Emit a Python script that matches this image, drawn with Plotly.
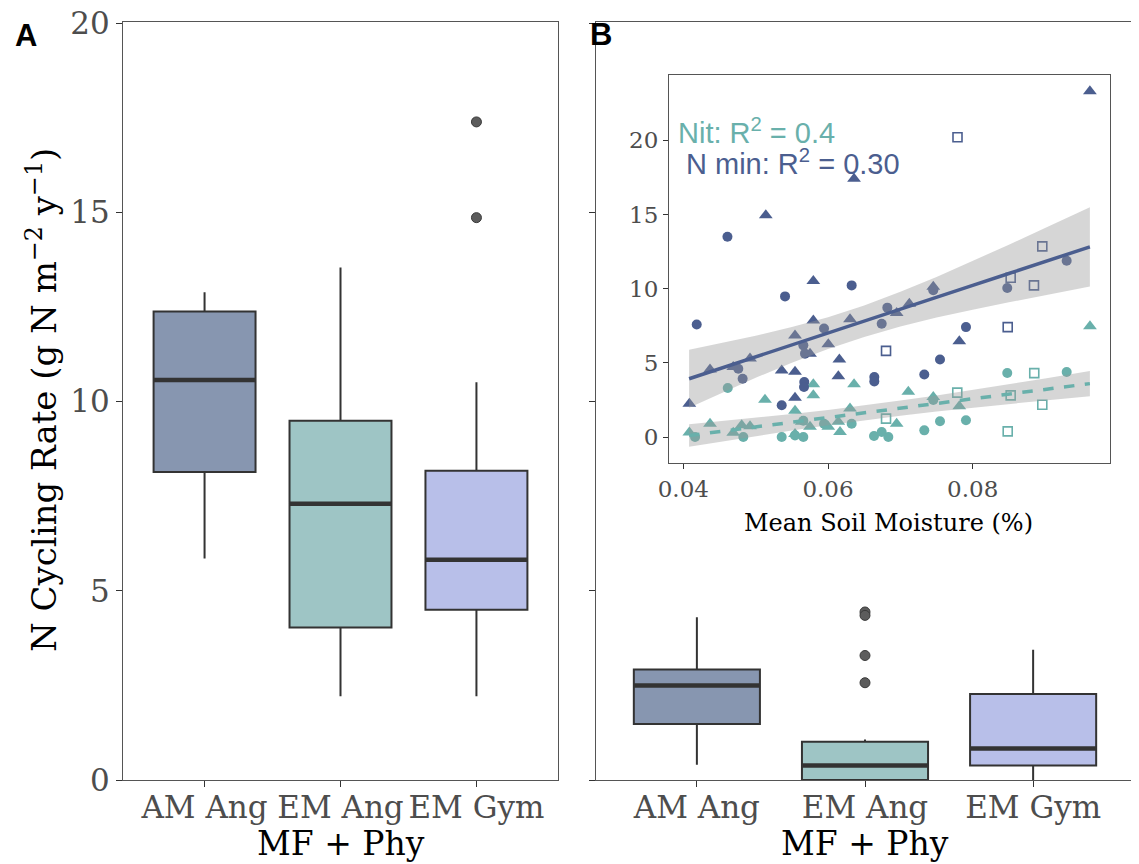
import plotly.graph_objects as go

# the page body has an 8 px margin, so the figure is drawn 8 px smaller and offsets are compensated
OFF = 8
W, H = 1139 - OFF, 864 - OFF

# ---------------- data ----------------
categories = ["AM Ang", "EM Ang", "EM Gym"]
box_fill = ["#8796b0", "#9ec5c5", "#b8bfe9"]

# Panel A (box statistics)
a_q1 = [8.14, 4.03, 4.50]
a_median = [10.57, 7.30, 5.82]
a_q3 = [12.38, 9.49, 8.17]
a_lower = [5.85, 2.21, 2.21]
a_upper = [12.89, 13.54, 10.51]
a_out_cat = ["EM Gym", "EM Gym"]
a_out_val = [17.39, 14.86]

# Panel B (box statistics)
b_q1 = [1.48, 0.00, 0.38]
b_median = [2.50, 0.38, 0.83]
b_q3 = [2.92, 1.01, 2.27]
b_lower = [0.40, 0.00, 0.00]
b_upper = [4.30, 1.07, 3.44]
b_out_cat = ["EM Ang", "EM Ang", "EM Ang", "EM Ang"]
b_out_val = [4.44, 4.35, 3.29, 2.57]

# Inset: N mineralisation (blue) and nitrification (teal) vs soil moisture
nmin_circle_x = [0.04185, 0.0461, 0.05406, 0.06327, 0.0476, 0.0482, 0.05659, 0.05682, 0.05945,
                 0.06742, 0.05672, 0.05668, 0.0536, 0.0664, 0.0664, 0.0682, 0.07455, 0.07331,
                 0.07548, 0.07907, 0.08478, 0.09299]
nmin_circle_y = [7.59, 13.5, 9.48, 10.22, 4.6, 3.93, 6.18, 5.62, 7.32,
                 7.64, 3.71, 3.37, 2.14, 4.04, 3.75, 8.72, 9.9, 4.22,
                 5.23, 7.41, 10.04, 11.88]
nmin_tri_x = [0.04083, 0.04369, 0.0469, 0.04922, 0.0514, 0.0536, 0.05544, 0.05544, 0.05544,
              0.05751, 0.05797, 0.05797, 0.06004, 0.06143, 0.06157, 0.06304, 0.0636, 0.06949,
              0.07124, 0.07455, 0.07815, 0.0962]
nmin_tri_y = [2.25, 4.56, 4.72, 5.3, 14.95, 4.49, 6.85, 4.4, 2.64,
              5.62, 10.51, 7.86, 6.25, 4.09, 5.22, 7.93, 17.4, 8.36,
              8.99, 10.13, 6.45, 23.3]
nmin_sq_x = [0.06802, 0.0779, 0.08484, 0.08525, 0.08847, 0.08962]
nmin_sq_y = [5.81, 20.2, 7.41, 10.74, 10.22, 12.85]

nit_circle_x = [0.04162, 0.04614, 0.04829, 0.0536, 0.05544, 0.05659, 0.05659, 0.05945, 0.06327,
                0.06636, 0.06742, 0.06834, 0.07331, 0.07455, 0.07548, 0.07907, 0.08478, 0.09299]
nit_circle_y = [0.0, 3.3, 0.0, 0.0, 0.11, 0.0, 1.1, 0.9, 0.9,
                0.07, 0.34, 0.0, 0.45, 2.5, 1.06, 1.13, 4.31, 4.38]
nit_tri_x = [0.04083, 0.04369, 0.0469, 0.04807, 0.04922, 0.05129, 0.05544, 0.05544, 0.05637,
             0.05751, 0.05797, 0.05797, 0.06004, 0.06143, 0.06166, 0.06304, 0.0636, 0.06949,
             0.0711, 0.07455, 0.07815, 0.09621]
nit_tri_y = [0.3, 0.9, 0.29, 0.79, 0.72, 2.52, 1.77, 0.2, 1.03,
             0.69, 3.55, 2.81, 0.69, 1.03, 0.34, 1.93, 3.55, 0.9,
             3.05, 2.7, 2.07, 7.46]
nit_sq_x = [0.06802, 0.07787, 0.08484, 0.08525, 0.08851, 0.08962]
nit_sq_y = [1.24, 2.99, 0.38, 2.81, 4.31, 2.18]

# fitted lines and confidence bands
fit_x = [0.0408, 0.045, 0.05, 0.055, 0.06, 0.065, 0.07, 0.075, 0.08, 0.085, 0.09, 0.0962]
nmin_fit = [3.93, 4.61, 5.41, 6.21, 7.01, 7.81, 8.62, 9.42, 10.22, 11.02, 11.83, 12.82]
nmin_hi = [5.88, 6.30, 6.83, 7.41, 8.08, 8.87, 9.79, 10.79, 11.86, 12.96, 14.09, 15.49]
nmin_lo = [1.98, 2.92, 3.99, 5.01, 5.94, 6.75, 7.45, 8.05, 8.58, 9.08, 9.57, 10.15]
nit_fit = [0.10, 0.37, 0.68, 1.00, 1.31, 1.63, 1.95, 2.26, 2.58, 2.89, 3.21, 3.60]
nit_hi = [0.86, 1.06, 1.30, 1.56, 1.83, 2.13, 2.46, 2.80, 3.17, 3.55, 3.95, 4.45]
nit_lo = [-0.66, -0.32, 0.06, 0.44, 0.79, 1.13, 1.44, 1.72, 1.99, 2.23, 2.47, 2.75]

# ---------------- styles ----------------
SERIF = "DejaVu Serif"
SANS = "Liberation Sans, Arial, sans-serif"
BLUE = "#4b5e8f"
TEAL = "#69b0ab"
LINE = "#333333"
FRAME = "#555555"
TICKC = "#4d4d4d"
BOXW = 0.75

pos = {c: i + 1 for i, c in enumerate(categories)}

fig = go.Figure()


def add_boxes(xa, ya, q1, med, q3, lo, hi, out_cat, out_val):
    for i, c in enumerate(categories):
        fig.add_trace(go.Box(
            x=[pos[c]], q1=[q1[i]], median=[med[i]], q3=[q3[i]],
            lowerfence=[lo[i]], upperfence=[hi[i]],
            width=BOXW, whiskerwidth=0, fillcolor=box_fill[i],
            line=dict(color=LINE, width=2), boxpoints=False,
            xaxis=xa, yaxis=ya, showlegend=False, hoverinfo="skip"))
        fig.add_trace(go.Scatter(
            x=[pos[c] - BOXW / 2, pos[c] + BOXW / 2], y=[med[i], med[i]],
            mode="lines", line=dict(color=LINE, width=4.5),
            xaxis=xa, yaxis=ya, showlegend=False, hoverinfo="skip"))
    fig.add_trace(go.Scatter(
        x=[pos[c] for c in out_cat], y=out_val, mode="markers",
        marker=dict(color="#5c5c5c", size=10, line=dict(color="#3a3a3a", width=1)),
        xaxis=xa, yaxis=ya, showlegend=False, hoverinfo="skip"))


add_boxes("x", "y", a_q1, a_median, a_q3, a_lower, a_upper, a_out_cat, a_out_val)
add_boxes("x2", "y2", b_q1, b_median, b_q3, b_lower, b_upper, b_out_cat, b_out_val)


# inset points
def pts(x, y, color, symbol, size, filled=True):
    if filled:
        m = dict(color=color, size=size, symbol=symbol, line=dict(width=0))
    else:
        m = dict(color=color, size=size, symbol=symbol, line=dict(color=color, width=1.6))
    fig.add_trace(go.Scatter(x=x, y=y, mode="markers", marker=m,
                             xaxis="x3", yaxis="y3", showlegend=False, hoverinfo="skip"))


pts(nit_circle_x, nit_circle_y, TEAL, "circle", 10)
pts(nit_tri_x, nit_tri_y, TEAL, "triangle-up", 12)
pts(nit_sq_x, nit_sq_y, TEAL, "square-open", 9, False)
pts(nmin_circle_x, nmin_circle_y, BLUE, "circle", 10)
pts(nmin_tri_x, nmin_tri_y, BLUE, "triangle-up", 12)
pts(nmin_sq_x, nmin_sq_y, BLUE, "square-open", 9, False)

# confidence bands
for lo, hi in [(nmin_lo, nmin_hi), (nit_lo, nit_hi)]:
    fig.add_trace(go.Scatter(
        x=fit_x + fit_x[::-1], y=hi + lo[::-1], fill="toself",
        fillcolor="rgba(153,153,153,0.4)", line=dict(width=0),
        mode="lines", xaxis="x3", yaxis="y3", showlegend=False, hoverinfo="skip"))

fig.add_trace(go.Scatter(x=fit_x, y=nmin_fit, mode="lines",
                         line=dict(color=BLUE, width=3.5),
                         xaxis="x3", yaxis="y3", showlegend=False, hoverinfo="skip"))
fig.add_trace(go.Scatter(x=fit_x, y=nit_fit, mode="lines",
                         line=dict(color=TEAL, width=3.5, dash="dash"),
                         xaxis="x3", yaxis="y3", showlegend=False, hoverinfo="skip"))


# ---------------- layout ----------------
def px(x):
    return (x - OFF) / W


def py(y):
    return 1 - (y - OFF) / H


cat_axis = dict(range=[0.4, 3.6], tickmode="array", tickvals=[1, 2, 3], ticktext=categories,
                ticks="outside", ticklen=6, tickwidth=1, tickcolor=LINE,
                showline=True, linecolor=FRAME, linewidth=1, mirror=True,
                showgrid=False, zeroline=False, automargin=False, ticklabeloverflow="allow",
                ticklabelstandoff=-6,
                tickfont=dict(family=SERIF, size=31, color=TICKC))
val_axis = dict(range=[0, 20.03], tickmode="array", tickvals=[0, 5, 10, 15, 20],
                ticks="outside", ticklen=6, tickwidth=1, tickcolor=LINE,
                showline=True, linecolor=FRAME, linewidth=1, mirror=True,
                showgrid=False, zeroline=False, automargin=False, ticklabeloverflow="allow",
                tickfont=dict(family=SERIF, size=31, color=TICKC))

fig.update_layout(
    width=W, height=H, margin=dict(l=0, r=0, t=0, b=0, autoexpand=False),
    paper_bgcolor="white", plot_bgcolor="white", showlegend=False,
    xaxis=dict(cat_axis, domain=[px(123), px(558)], anchor="y"),
    yaxis=dict(val_axis, domain=[py(780), py(22)], anchor="x"),
    xaxis2=dict(cat_axis, domain=[px(596), px(1134)], anchor="y2"),
    yaxis2=dict(val_axis, domain=[py(780), py(22)], anchor="x2", showticklabels=False),
    xaxis3=dict(domain=[px(669), px(1110)], anchor="y3", range=[0.03802, 0.09898],
                tickmode="array", tickvals=[0.04, 0.06, 0.08], ticktext=["0.04", "0.06", "0.08"],
                ticks="outside", ticklen=5, tickcolor=LINE,
                showline=True, linecolor=FRAME, linewidth=1, mirror=True,
                showgrid=False, zeroline=False, automargin=False,
                tickfont=dict(family=SERIF, size=23, color=TICKC)),
    yaxis3=dict(domain=[py(463), py(75)], anchor="x3", range=[-1.75, 24.4],
                tickmode="array", tickvals=[0, 5, 10, 15, 20],
                ticks="outside", ticklen=5, tickcolor=LINE,
                showline=True, linecolor=FRAME, linewidth=1, mirror=True,
                showgrid=False, zeroline=False, automargin=False,
                tickfont=dict(family=SERIF, size=23, color=TICKC)),
)

ann = [
    dict(text="N Cycling Rate (g N m<sup>\u22122</sup> y<sup>\u22121</sup>)", x=px(42), y=py(400),
         textangle=-90, font=dict(family=SERIF, size=34, color="black")),
    dict(text="MF + Phy", x=px(341), y=py(843), font=dict(family=SERIF, size=33, color="black")),
    dict(text="MF + Phy", x=px(865), y=py(843), font=dict(family=SERIF, size=33, color="black")),
    dict(text="Mean Soil Moisture (%)", x=px(888), y=py(523),
         font=dict(family=SERIF, size=24, color="black")),
    dict(text="<b>A</b>", x=px(26), y=py(36), font=dict(family=SANS, size=31, color="black")),
    dict(text="<b>B</b>", x=px(601), y=py(35), font=dict(family=SANS, size=31, color="black")),
    dict(text="Nit: R<sup>2</sup> = 0.4", x=px(676), y=py(131), xanchor="left",
         font=dict(family=SANS, size=29, color=TEAL)),
    dict(text="N min: R<sup>2</sup> = 0.30", x=px(684), y=py(162), xanchor="left",
         font=dict(family=SANS, size=29, color=BLUE)),
]
for a in ann:
    a.setdefault("xanchor", "center")
    a.update(xref="paper", yref="paper", yanchor="middle", showarrow=False)
fig.update_layout(annotations=ann)

fig.write_html("out.html")
